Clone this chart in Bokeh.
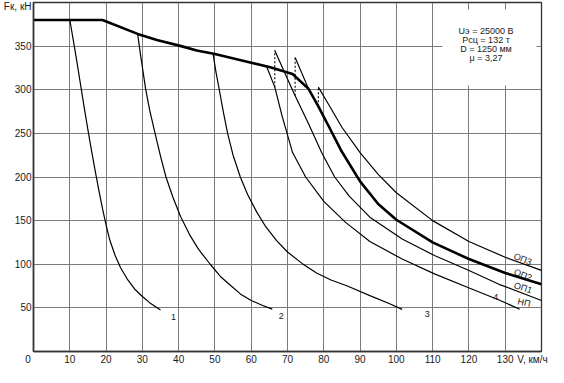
from bokeh.plotting import figure
from bokeh.models import Range1d, FixedTicker, Label, BoxAnnotation
from bokeh.embed import file_html
from bokeh.resources import INLINE

# ---------------- data ----------------
x_ticks = [10, 20, 30, 40, 50, 60, 70, 80, 90, 100, 110, 120, 130]
y_ticks = [50, 100, 150, 200, 250, 300, 350]

# axis captions placed as extra tick labels
x_caption_pos = 137.5
x_caption = "V, км/ч"
y_caption_pos = 395
y_caption = "Fк, кН"
origin_label = "0\u00a0\u00a0\u00a0\u00a0"

# limiting (thick) characteristic up to the knee
V_env = [0, 19, 28.7, 34, 40.7, 45, 50, 58, 65, 71.4]
F_env = [380, 380, 364, 357, 350, 345, 341, 333, 326, 318]

# running positions 1, 2, 3
V1 = [10, 11, 12, 13, 14, 15, 16, 17, 18, 19, 20, 21, 22.5, 24, 26, 28, 30, 32, 35]
F1 = [380, 356, 331, 305, 279, 254, 230, 207, 185, 164, 145, 128, 110, 96, 82, 71, 63, 56, 47.5]

V2 = [28.7, 29.5, 30.9, 32, 33.5, 35, 36.5, 38.5, 40.5, 43, 45.5, 48.7, 51.5, 54.5, 57, 60, 63, 65.8]
F2 = [364, 340, 301, 277, 250, 224, 200, 176, 155, 134, 117, 100, 86, 75, 66, 58.5, 53, 48.6]

V3 = [49.5, 50.3, 51.2, 52.3, 53.5, 55, 57, 59, 61.5, 64, 67, 70, 74, 78, 82, 86.5, 92.7, 98, 101.6]
F3 = [341, 320, 300, 275, 250, 225, 200, 180, 160, 143, 127, 114, 101, 90, 82, 75, 64, 55, 48.3]

# full field (4 / НП) and weakened field steps
V_np = [64.3, 66.5, 68.5, 71.4, 75, 80, 86, 92.7, 101.6, 110.5, 119.4, 128.3, 134]
F_np = [326, 303, 270, 228, 200, 172, 148, 126, 106, 89, 74, 59, 48.5]

V_op1 = [66.5, 69.6, 72.1, 75.8, 79.4, 83, 87, 92.7, 101.6, 110.5, 119.4, 128.3, 140]
F_op1 = [345, 316, 293, 261, 228, 200, 178, 154, 129, 110, 94, 77, 58.5]

V_op2 = [72.1, 75.8, 78.5, 81.5, 84.7, 90, 95, 100, 110, 120, 130, 140]
F_op2 = [337, 301, 281, 257, 231, 195, 169, 151, 125, 106, 90, 77]

V_op3 = [78.5, 81.5, 85, 90, 95, 100, 110, 120, 130, 140]
F_op3 = [303, 282, 257, 228, 203, 182, 150, 126, 108, 93]

# dashed transitions between field steps
trans_V = [66.5, 72.1, 78.5]
trans_low = [303, 293, 281]
trans_high = [345, 337, 303]

# curve labels
curve_label_text = ["1", "2", "3", "4", "НП", "ОП1", "ОП2", "ОП3"]
curve_label_V = [38.6, 68.3, 108.5, 127.4, 135.2, 134.9, 134.9, 134.8]
curve_label_F = [39.9, 40.2, 42.8, 62.8, 56, 73, 87.7, 105.9]
curve_label_angle = [0, 0, 0, 0, -0.22, -0.3, -0.38, -0.38]

info_lines = ["Uэ = 25000 В", "Рсц = 132 т", "D = 1250 мм", "μ = 3,27"]
info_V = 124.7
info_F = [367.2, 356.8, 346.4, 336.0]

FONT = "Liberation Sans"
INK = "#1a1a1a"

# ---------------- figure ----------------
p = figure(width=548, height=367, x_range=Range1d(0, 140), y_range=Range1d(0, 400),
           output_backend="svg", toolbar_location=None,
           min_border_left=31, min_border_right=7, min_border_top=2, min_border_bottom=15)
p.background_fill_color = "white"
p.border_fill_color = "white"
p.outline_line_color = "#333333"
p.outline_line_width = 1.3

p.xaxis.ticker = FixedTicker(ticks=[0] + x_ticks + [x_caption_pos])
p.xaxis.major_label_overrides = {0: origin_label, x_caption_pos: x_caption}
p.yaxis.ticker = FixedTicker(ticks=y_ticks + [y_caption_pos])
p.yaxis.major_label_overrides = {y_caption_pos: y_caption}

for ax in (p.xaxis, p.yaxis):
    ax.major_tick_out = 0
    ax.major_tick_in = 0
    ax.minor_tick_out = 0
    ax.minor_tick_in = 0
    ax.axis_line_color = "#333333"
    ax.axis_line_width = 1.6
    ax.major_label_text_font = FONT
    ax.major_label_text_font_size = "10px"
    ax.major_label_text_color = INK
    ax.major_label_standoff = 2

p.xgrid.ticker = FixedTicker(ticks=x_ticks)
p.ygrid.ticker = FixedTicker(ticks=y_ticks)
p.grid.grid_line_color = "#7a7a7a"
p.grid.grid_line_width = 1

# white box behind the parameter text
p.add_layout(BoxAnnotation(left=112.7, right=138.6, bottom=305, top=392,
                           fill_color="white", fill_alpha=1.0, line_alpha=0, level="underlay"))

thin = dict(line_color="black", line_width=1.2)
for vv, ff in ((V1, F1), (V2, F2), (V3, F3), (V_np, F_np), (V_op1, F_op1), (V_op3, F_op3)):
    p.line(vv, ff, **thin)
p.line(V_op2[:2], F_op2[:2], **thin)
p.line(V_env + V_op2[1:], F_env + F_op2[1:], line_color="black", line_width=2.6)
p.segment(x0=trans_V, y0=trans_low, x1=trans_V, y1=trans_high,
          line_color="black", line_width=1.1, line_dash="2 2")

for t, vx, fy, a in zip(curve_label_text, curve_label_V, curve_label_F, curve_label_angle):
    p.add_layout(Label(x=vx, y=fy, text=t, angle=a, text_font=FONT, text_font_size="9px",
                       text_color=INK, text_align="center", text_baseline="middle"))

for t, fy in zip(info_lines, info_F):
    p.add_layout(Label(x=info_V, y=fy, text=t, text_font=FONT, text_font_size="9px",
                       text_color=INK, text_align="center", text_baseline="middle"))

open("out.html", "w").write(file_html(p, INLINE))
